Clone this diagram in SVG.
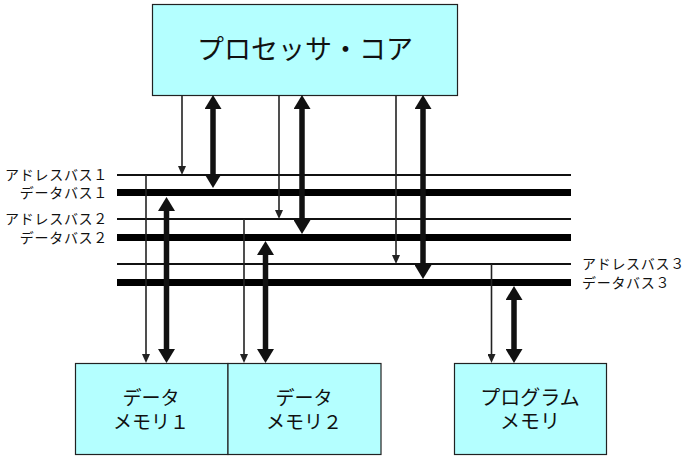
<svg xmlns="http://www.w3.org/2000/svg" width="684" height="456" viewBox="0 0 684 456">
  <style>
    .box { fill: #b4ffff; stroke: #222; stroke-width: 1.2; }
    .title { font-family: "Noto Sans CJK JP", "Noto Sans", sans-serif; fill: #111; text-anchor: middle; }
    .lbl { font-family: "Noto Sans CJK JP", "Noto Sans", sans-serif; font-size: 14px; letter-spacing: 0.7px; fill: #111; }
    .addr { stroke: #111; stroke-width: 2; fill: none; }
    .data { stroke: #000; stroke-width: 7; fill: none; }
    .thin { stroke: #222; stroke-width: 1.6; fill: none; marker-end: url(#small); }
    .thick { stroke: #111; stroke-width: 5.5; fill: none; marker-end: url(#big); }
    .both { marker-start: url(#big); }
  </style>
  <defs>
    <marker id="small" markerUnits="userSpaceOnUse" markerWidth="9" markerHeight="8" refX="3" refY="4" orient="auto-start-reverse">
      <path d="M0,0 L9,4 L0,8 z" fill="#222"/>
    </marker>
    <marker id="big" markerUnits="userSpaceOnUse" markerWidth="14" markerHeight="17" refX="4" refY="8.5" orient="auto-start-reverse">
      <path d="M0,0 L14,8.5 L0,17 z" fill="#111"/>
    </marker>
  </defs>

  <!-- processor core -->
  <g id="core">
    <rect class="box" x="152.5" y="4.5" width="305" height="91"/>
    <text class="title" x="305" y="59" font-size="27">プロセッサ・コア</text>
  </g>

  <!-- memories -->
  <g id="mem1">
    <rect class="box" x="75.5" y="363.5" width="152.5" height="91"/>
    <text class="title" x="151" y="405" font-size="19">データ</text>
    <text class="title" x="151" y="429" font-size="19">メモリ１</text>
  </g>
  <g id="mem2">
    <rect class="box" x="228" y="363.5" width="153" height="91"/>
    <text class="title" x="304" y="405" font-size="19">データ</text>
    <text class="title" x="304" y="429" font-size="19">メモリ２</text>
  </g>
  <g id="mem3">
    <rect class="box" x="454.5" y="363.5" width="152" height="91"/>
    <text class="title" x="530" y="405" font-size="20">プログラム</text>
    <text class="title" x="530" y="429" font-size="20">メモリ</text>
  </g>

  <!-- buses -->
  <g id="buses">
    <line class="addr" x1="117" y1="175" x2="571" y2="175"/>
    <line class="data" x1="117" y1="192.5" x2="571" y2="192.5"/>
    <line class="addr" x1="117" y1="219" x2="571" y2="219"/>
    <line class="data" x1="117" y1="237.5" x2="571" y2="237.5"/>
    <line class="addr" x1="117" y1="264" x2="571" y2="264"/>
    <line class="data" x1="117" y1="282.5" x2="571" y2="282.5"/>
    <text class="lbl" x="108" y="180" text-anchor="end">アドレスバス１</text>
    <text class="lbl" x="108" y="197.5" text-anchor="end">データバス１</text>
    <text class="lbl" x="108" y="224" text-anchor="end">アドレスバス２</text>
    <text class="lbl" x="108" y="242.5" text-anchor="end">データバス２</text>
    <text class="lbl" x="582" y="269">アドレスバス３</text>
    <text class="lbl" x="582" y="288">データバス３</text>
  </g>

  <!-- connectors -->
  <g id="connectors">
    <!-- core to buses -->
    <line class="thin" x1="182" y1="96" x2="182" y2="169"/>
    <line class="thick both" x1="213" y1="105" x2="213" y2="178"/>
    <line class="thin" x1="279" y1="96" x2="279" y2="213"/>
    <line class="thick both" x1="302" y1="105" x2="302" y2="224"/>
    <line class="thin" x1="396" y1="96" x2="396" y2="258"/>
    <line class="thick both" x1="423" y1="105" x2="423" y2="269"/>
    <!-- buses to memories -->
    <line class="thin" x1="146" y1="175" x2="146" y2="357"/>
    <line class="thick both" x1="166.5" y1="207" x2="166.5" y2="353"/>
    <line class="thin" x1="244" y1="219" x2="244" y2="357"/>
    <line class="thick both" x1="265.5" y1="251" x2="265.5" y2="353"/>
    <line class="thin" x1="491.5" y1="264" x2="491.5" y2="357"/>
    <line class="thick both" x1="514" y1="296" x2="514" y2="353"/>
  </g>
</svg>
